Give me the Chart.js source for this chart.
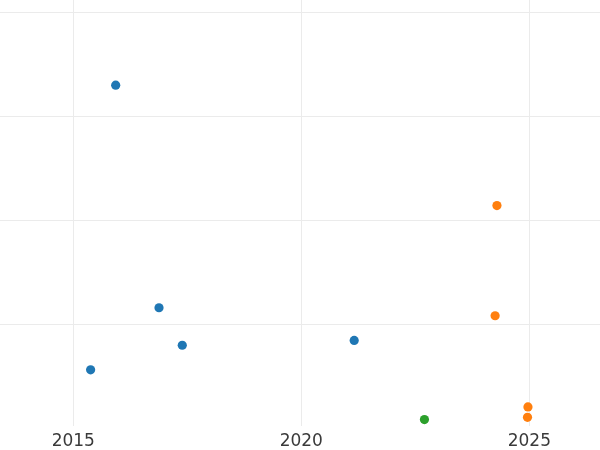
<!DOCTYPE html>
<html>
<head>
<meta charset="utf-8">
<script src="https://cdn.jsdelivr.net/npm/chart.js@4/dist/chart.umd.min.js"></script>
<style>
html,body{margin:0;padding:0;background:#fff;}
#wrap{width:600px;height:450px;position:relative;}
</style>
</head>
<body>
<div id="wrap"><canvas id="c" width="600" height="450"></canvas></div>
<script>
// Data (x = year, y = value)
const seriesBlueX = [2015.93, 2016.88, 2017.39, 2015.38, 2021.16];
const seriesBlueY = [33.05, 11.61, 8.00, 5.63, 8.46];
const seriesOrangeX = [2024.29, 2024.25, 2024.97, 2024.96];
const seriesOrangeY = [21.45, 10.84, 2.06, 1.06];
const seriesGreenX = [2022.70];
const seriesGreenY = [0.84];
const xTickValues = [2015, 2020, 2025];
const yTickValues = [10, 20, 30, 40];

function pts(xs, ys){ return xs.map((x,i)=>({x:x, y:ys[i]})); }

const gridColor = '#ebebeb';
new Chart(document.getElementById('c'), {
  type: 'scatter',
  data: {
    datasets: [
      {data: pts(seriesBlueX, seriesBlueY), backgroundColor:'#1f77b4', borderColor:'#1f77b4', borderWidth:0, pointRadius:4.6},
      {data: pts(seriesOrangeX, seriesOrangeY), backgroundColor:'#ff7f0e', borderColor:'#ff7f0e', borderWidth:0, pointRadius:4.6},
      {data: pts(seriesGreenX, seriesGreenY), backgroundColor:'#2ca02c', borderColor:'#2ca02c', borderWidth:0, pointRadius:4.6}
    ]
  },
  options: {
    responsive:false,
    animation:false,
    devicePixelRatio:1,
    layout:{autoPadding:false, padding:{left:0,right:0,top:0,bottom:-8}},
    plugins:{legend:{display:false}, tooltip:{enabled:false}},
    scales:{
      x:{
        type:'linear', min:2013.393, max:2026.55,
        afterBuildTicks:(s)=>{ s.ticks = xTickValues.map(v=>({value:v})); },
        grid:{color:gridColor, lineWidth:1, drawTicks:false},
        border:{display:false},
        ticks:{color:'#3a3a3a', font:{family:'DejaVu Sans', size:17}, padding:6,
               callback:(v)=>String(v), maxRotation:0}
      },
      y:{
        type:'linear', min:0.26, max:41.25,
        afterBuildTicks:(s)=>{ s.ticks = yTickValues.map(v=>({value:v})); },
        grid:{color:gridColor, lineWidth:1, drawTicks:false},
        border:{display:false},
        ticks:{display:false}
      }
    }
  }
});
</script>
</body>
</html>
